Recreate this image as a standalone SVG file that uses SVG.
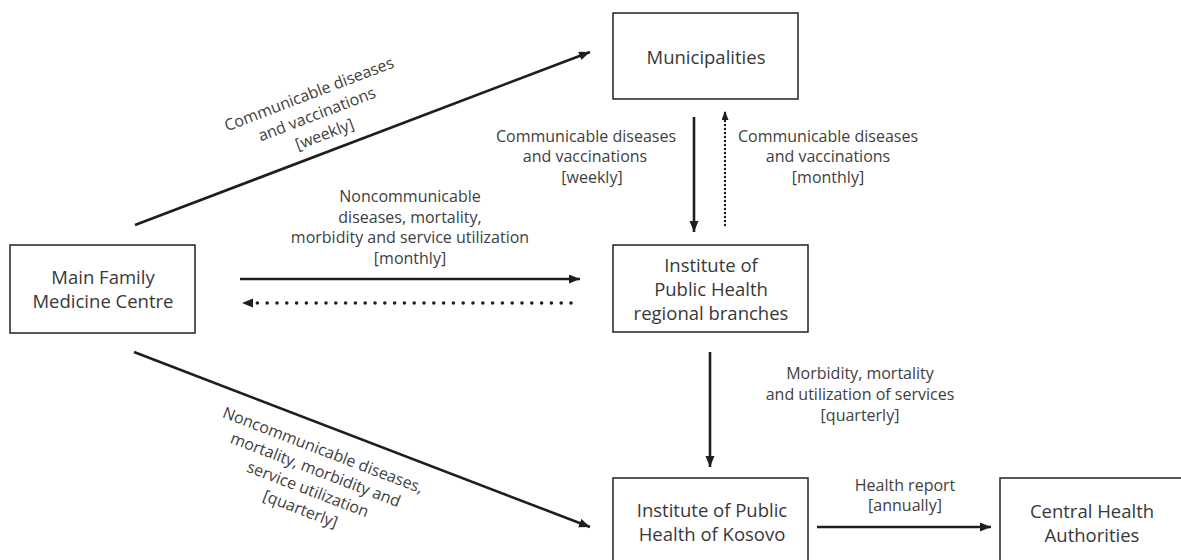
<svg xmlns="http://www.w3.org/2000/svg" width="1181" height="560" viewBox="0 0 1181 560">
<style>
.box{fill:#fff;stroke:#222;stroke-width:1.5}
.nt{font-family:"Open Sans","Noto Sans",sans-serif;font-size:18.5px;fill:#383838;text-anchor:middle}
.lt{font-family:"Open Sans","Noto Sans",sans-serif;font-size:16px;fill:#404040;text-anchor:middle}
.c{fill:none;stroke:#1e1e1e;stroke-width:2.6}
.dotb{fill:none;stroke:#1e1e1e;stroke-width:3.6;stroke-linecap:round;stroke-dasharray:0 9.8}
.dots{fill:none;stroke:#1e1e1e;stroke-width:2.4;stroke-linecap:round;stroke-dasharray:0 4}
</style>
<defs>
<marker id="ah" markerUnits="userSpaceOnUse" markerWidth="12" markerHeight="10" refX="11" refY="4.5" orient="auto">
<path d="M0,0 L11,4.5 L0,9 z" fill="#1e1e1e"/>
</marker>
<marker id="ahs" markerUnits="userSpaceOnUse" markerWidth="10" markerHeight="8" refX="9" refY="3.5" orient="auto">
<path d="M0,0 L9,3.5 L0,7 z" fill="#1e1e1e"/>
</marker>
</defs>
<rect width="1181" height="560" fill="#fff"/>

<g id="connectors">
<line class="c" x1="135" y1="225" x2="590" y2="52" marker-end="url(#ah)"/>
<line class="c" x1="134" y1="352" x2="590" y2="527" marker-end="url(#ah)"/>
<line class="c" x1="240" y1="279" x2="580" y2="279" marker-end="url(#ah)"/>
<line class="dotb" x1="571" y1="303" x2="242" y2="303" marker-end="url(#ah)"/>
<line class="c" x1="694" y1="117" x2="694" y2="232" marker-end="url(#ah)"/>
<line class="dots" x1="725" y1="225" x2="725" y2="111" marker-end="url(#ahs)"/>
<line class="c" x1="710" y1="352" x2="710" y2="467" marker-end="url(#ah)"/>
<line class="c" x1="817" y1="527" x2="991" y2="527" marker-end="url(#ah)"/>
</g>

<g id="labels">
<g transform="translate(309,94) rotate(-21)">
<text class="lt" x="0" y="0" dy="0.35em">Communicable diseases</text>
<text class="lt" x="0" y="21.5" dy="0.35em">and vaccinations</text>
<text class="lt" x="0" y="43" dy="0.35em">[weekly]</text>
</g>
<g transform="translate(323,450) rotate(21)">
<text class="lt" x="0" y="0" dy="0.35em">Noncommunicable diseases,</text>
<text class="lt" x="0" y="21" dy="0.35em">mortality, morbidity and</text>
<text class="lt" x="0" y="42" dy="0.35em">service utilization</text>
<text class="lt" x="0" y="63" dy="0.35em">[quarterly]</text>
</g>
<text class="lt" x="410" y="196" dy="0.35em">Noncommunicable</text>
<text class="lt" x="410" y="217" dy="0.35em">diseases, mortality,</text>
<text class="lt" x="410" y="237" dy="0.35em">morbidity and service utilization</text>
<text class="lt" x="410" y="258" dy="0.35em">[monthly]</text>
<text class="lt" x="586" y="136" dy="0.35em">Communicable diseases</text>
<text class="lt" x="585" y="156.5" dy="0.35em">and vaccinations</text>
<text class="lt" x="592" y="177.5" dy="0.35em">[weekly]</text>
<text class="lt" x="828" y="136" dy="0.35em">Communicable diseases</text>
<text class="lt" x="828" y="156.5" dy="0.35em">and vaccinations</text>
<text class="lt" x="828" y="177.5" dy="0.35em">[monthly]</text>
<text class="lt" x="860" y="373" dy="0.35em">Morbidity, mortality</text>
<text class="lt" x="860" y="394" dy="0.35em">and utilization of services</text>
<text class="lt" x="860" y="415" dy="0.35em">[quarterly]</text>
<text class="lt" x="905" y="485" dy="0.35em">Health report</text>
<text class="lt" x="905" y="505" dy="0.35em">[annually]</text>
</g>

<g id="node-municipalities">
<rect class="box" x="613" y="13" width="185" height="86"/>
<text class="nt" x="706" y="58" dy="0.35em">Municipalities</text>
</g>
<g id="node-main-family">
<rect class="box" x="10" y="245" width="185" height="88"/>
<text class="nt" x="103" y="278" dy="0.35em">Main Family</text>
<text class="nt" x="103" y="302" dy="0.35em">Medicine Centre</text>
</g>
<g id="node-iph-regional">
<rect class="box" x="613" y="245" width="195" height="87"/>
<text class="nt" x="711" y="266" dy="0.35em">Institute of</text>
<text class="nt" x="711" y="290" dy="0.35em">Public Health</text>
<text class="nt" x="711" y="313.5" dy="0.35em">regional branches</text>
</g>
<g id="node-iph-kosovo">
<rect class="box" x="613" y="478" width="195" height="90"/>
<text class="nt" x="712" y="511" dy="0.35em">Institute of Public</text>
<text class="nt" x="712" y="535" dy="0.35em">Health of Kosovo</text>
</g>
<g id="node-central">
<rect class="box" x="1000" y="478" width="190" height="90"/>
<text class="nt" x="1092" y="511.5" dy="0.35em">Central Health</text>
<text class="nt" x="1092" y="535.5" dy="0.35em">Authorities</text>
</g>
</svg>
